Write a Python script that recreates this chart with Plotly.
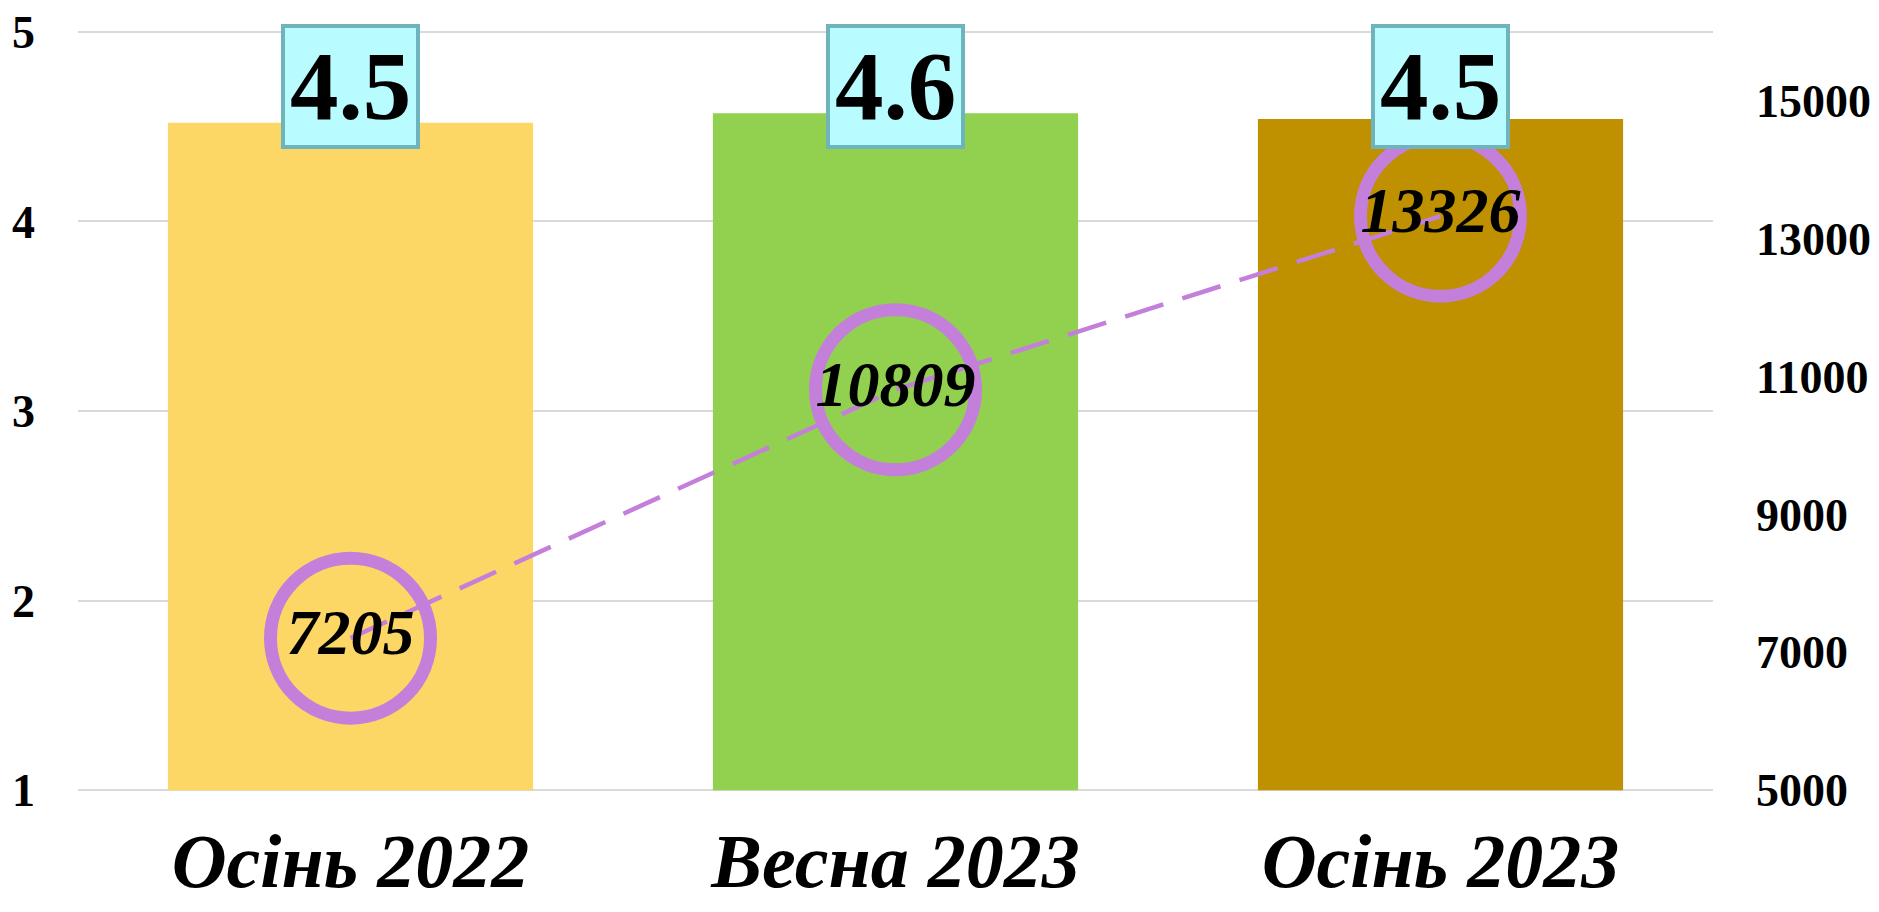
import plotly.graph_objects as go

categories = ["Осінь 2022", "Весна 2023", "Осінь 2023"]
bar_values = [4.52, 4.57, 4.54]
bar_labels = ["4.5", "4.6", "4.5"]
bar_colors = ["#FDD766", "#92D050", "#BF9000"]
line_values = [7205, 10809, 13326]
left_ticks = [1, 2, 3, 4, 5]
right_ticks = [5000, 7000, 9000, 11000, 13000, 15000]

FONT = "Liberation Serif, Times New Roman, serif"

# axis ranges (slightly padded so the boundary gridlines are drawn)
left_range = [0.985, 5.015]
per_unit = (16000 - 5000) / (5 - 1)
right_range = [5000 - (1 - left_range[0]) * per_unit, 16000 + (left_range[1] - 5) * per_unit]
bar_base = 1

fig = go.Figure()
fig.add_trace(go.Bar(
    x=categories, y=[v - bar_base for v in bar_values], base=bar_base,
    marker=dict(color=bar_colors, line=dict(width=0)),
    width=0.67, yaxis="y", hoverinfo="skip",
))
fig.add_trace(go.Scatter(
    x=categories, y=line_values, yaxis="y2", mode="lines+markers+text",
    line=dict(color="#C47FDA", width=4.5, dash="40px,20px"),
    marker=dict(symbol="circle-open", size=160, color="#C47FDA",
                line=dict(color="#C47FDA", width=13)),
    text=[str(v) for v in line_values], textposition="middle center",
    textfont=dict(family=FONT, size=64, color="black", weight="bold", style="italic"),
    hoverinfo="skip",
))

for c, lab in zip(categories, bar_labels):
    fig.add_annotation(
        x=c, y=4.71, xref="x", yref="y", text=f"<b>{lab}</b>", showarrow=False,
        font=dict(family=FONT, size=97, color="black"),
        bgcolor="#B8FCFF", bordercolor="#6FB4BC", borderwidth=4, borderpad=5,
        xanchor="center", yanchor="middle",
    )

fig.update_layout(
    width=1879, height=912,
    margin=dict(l=78, r=166, t=29, b=119),
    plot_bgcolor="white", paper_bgcolor="white",
    showlegend=False,
    xaxis=dict(
        tickfont=dict(family=FONT, size=76, color="black", weight="bold", style="italic"),
        showgrid=False, showline=False, ticks="", ticklabelstandoff=17, automargin=False,
    ),
    yaxis=dict(
        range=left_range, tickvals=left_ticks, showgrid=True, gridcolor="#D9D9D9", gridwidth=2,
        zeroline=False, showline=False, ticks="",
        tickfont=dict(family=FONT, size=46, color="black", weight="bold"),
        ticklabelstandoff=42, automargin=False,
    ),
    yaxis2=dict(
        range=right_range, tickvals=right_ticks, ticktext=[str(t) for t in right_ticks],
        overlaying="y", side="right",
        showgrid=False, zeroline=False, showline=False, ticks="",
        tickfont=dict(family=FONT, size=46, color="black", weight="bold"),
        ticklabelstandoff=42, automargin=False,
    ),
)

fig.write_html(
    "out.html",
    config={"displayModeBar": False},
    post_script="document.body.style.margin='0';document.body.style.overflow='hidden';",
)
